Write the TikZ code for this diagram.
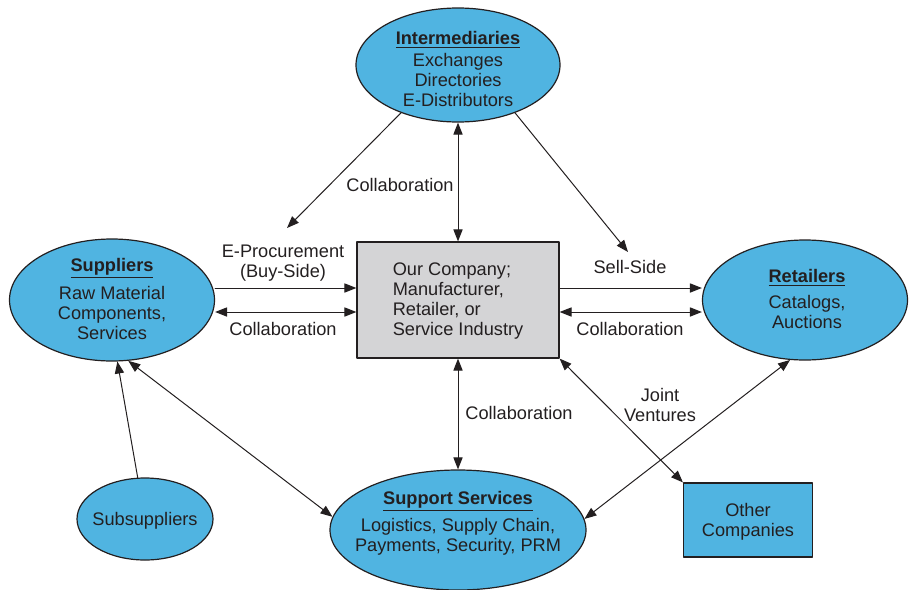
\documentclass[tikz,border=0pt]{standalone}
\usepackage{fontspec}
\setmainfont{Liberation Sans}
\usepackage{tikz}
\usetikzlibrary{shapes,arrows.meta,calc}
\definecolor{skyfill}{HTML}{50B4E1}
\definecolor{boxgray}{HTML}{D4D4D6}
\definecolor{ink}{HTML}{231F20}

\begin{document}
\begin{tikzpicture}[x=0.5pt,y=-0.5pt,line cap=round,line join=round,
	>={Triangle[length=6pt,width=4.6pt]},
	font=\fontsize{9.1}{10}\selectfont,
	bubble/.style={ellipse,draw=ink,fill=skyfill,line width=0.6pt},
	block/.style={rectangle,draw=ink,line width=0.6pt},
	txt/.style={align=center,text=ink,inner sep=0pt},
	link/.style={draw=ink,line width=0.5pt}]
			\useasboundingbox (0,0) rectangle (909,589);
			% the ellipses and boxes
			\node[bubble,minimum width=102pt,minimum height=57pt] (inter) at (458,65) {};
			\node[txt] (inter-t) at (458,69) {\underline{\textbf{Intermediaries}}\\[1pt]Exchanges\\Directories\\E-Distributors};
			\node[bubble,minimum width=102.5pt,minimum height=61pt] (sup) at (112,300) {};
			\node[txt] (sup-t) at (112,299) {\underline{\textbf{Suppliers}}\\[3pt]Raw Material\\Components,\\Services};
			\node[bubble,minimum width=102.5pt,minimum height=60pt] (ret) at (805,300) {};
			\node[txt] (ret-t) at (807,299) {\underline{\textbf{Retailers}}\\[3pt]Catalogs,\\Auctions};
			\node[bubble,minimum width=128pt,minimum height=60pt] (supp) at (458,530) {};
			\node[txt] (supp-t) at (458,523) {\underline{\textbf{Support Services}}\\[2pt]Logistics, Supply Chain,\\Payments, Security, PRM};
			\node[bubble,minimum width=68pt,minimum height=41pt] (subs) at (145,519) {};
			\node[txt] (subs-t) at (145,521) {Subsuppliers};
			\node[block,fill=boxgray,minimum width=101pt,minimum height=58pt] (comp) at (458,300) {};
			\node[txt,align=left] (comp-t) at (458,301) {Our Company;\\Manufacturer,\\Retailer, or\\Service Industry};
			\node[block,fill=skyfill,minimum width=64.5pt,minimum height=37pt] (other) at (748,520) {};
			\node[txt] (other-t) at (748,522) {Other\\Companies};
			% free ends
			\coordinate (buy) at (287,228);
			\coordinate (sell) at (628,252);
			% connectors
			\draw[link,->] (inter.220) -- (buy);
			\draw[link,->] (inter.-40) -- (sell);
			\draw[link,<->] (inter.south) -- (comp.north);
			\draw[link,->] ([yshift=6pt]sup.east) -- ([yshift=6pt]comp.west);
			\draw[link,<->] ([yshift=-6pt]sup.east) -- ([yshift=-6pt]comp.west);
			\draw[link,->] ([yshift=6pt]comp.east) -- ([yshift=6pt]ret.west);
			\draw[link,<->] ([yshift=-6pt]comp.east) -- ([yshift=-6pt]ret.west);
			\draw[link,<->] (comp.south) -- (supp.north);
			\draw[link,<->] (comp.south east) -- (other.north west);
			\draw[link,->] (subs.100) -- (sup.-85);
			\draw[link,<->] (sup.-75) -- (supp.174);
			\draw[link,<->] (ret.-104) -- (supp.5);
			% labels
			\node[txt] (lbl-collab-top) at (400,185) {Collaboration};
			\node[txt] (lbl-buy) at (283,263) {E-Procurement\\(Buy-Side)};
			\node[txt] (lbl-collab-left) at (283,329) {Collaboration};
			\node[txt] (lbl-sell) at (630,267) {Sell-Side};
			\node[txt] (lbl-collab-right) at (630,329) {Collaboration};
			\node[txt] (lbl-collab-down) at (519,413) {Collaboration};
			\node[txt] (lbl-joint) at (660,405) {Joint\\Ventures};
		\end{tikzpicture}
\end{document}
